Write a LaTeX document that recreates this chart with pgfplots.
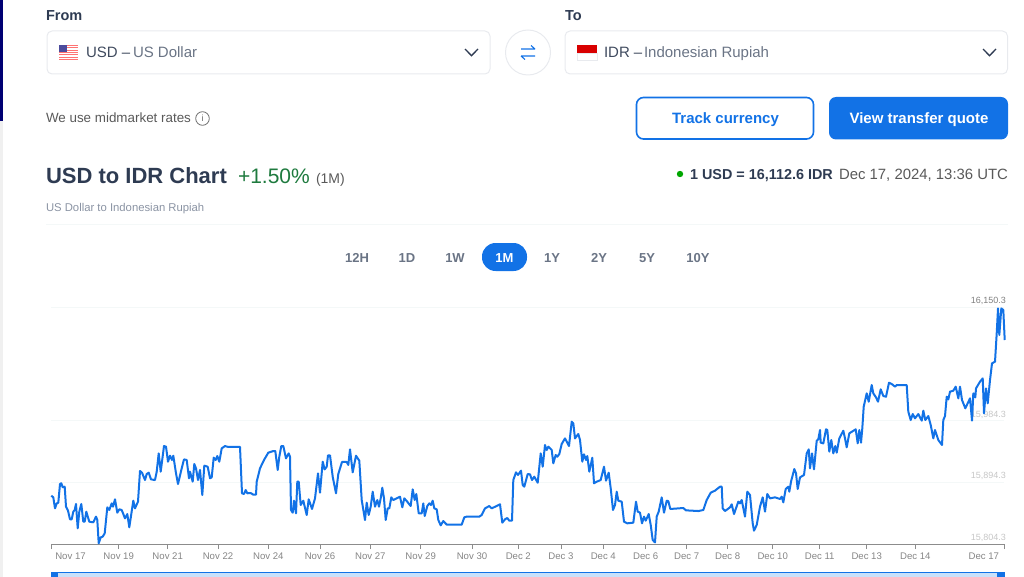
\documentclass[border=0pt]{standalone}
\usepackage{fontspec}
\setmainfont{Liberation Sans}
\usepackage{pgfplots}
\usepackage{pgfplotstable}
\pgfplotsset{compat=1.18}

\definecolor{wiseblue}{HTML}{1272E6}
\definecolor{inkdark}{HTML}{2E3B52}
\definecolor{inkmid}{HTML}{3F4A5E}
\definecolor{inkgrey}{HTML}{6A7485}
\definecolor{inkpale}{HTML}{8A93A3}
\definecolor{boxline}{HTML}{E8EAEE}
\definecolor{gridpale}{HTML}{F4F8F8}
\definecolor{ticklab}{HTML}{858585}
\definecolor{ylabpale}{HTML}{C6C6C6}
\definecolor{ylabdark}{HTML}{808080}
\definecolor{slider}{HTML}{C9E1FB}
\definecolor{upgreen}{HTML}{1E7A3E}

% x is the position along the chart, y the rate
\pgfplotstableread{
x y
51.3 15874.9
53.3 15872.5
55 15856.4
56.7 15863.7
58.3 15864.7
60 15892.0
61.3 15893.0
62.7 15887.1
64.7 15888.1
66 15858.9
68 15853.0
70 15840.4
71.7 15840.4
73.3 15851.6
74.7 15854.0
76 15862.8
77.7 15827.2
79.3 15851.6
81.3 15862.8
83.3 15836.9
84.7 15836.9
86.3 15851.6
89.3 15836.9
93.3 15836.0
96 15844.3
97.3 15839.4
98.7 15805.3
100.7 15814.0
102.7 15815.0
104.7 15819.9
107.3 15857.9
109.3 15854.0
111.7 15863.7
113 15858.9
115 15869.6
117.3 15850.1
119.3 15855.0
121.7 15854.0
125 15841.8
127.3 15848.1
129.3 15828.7
133.3 15867.6
135 15856.4
138 15866.2
140 15911.0
142 15908.6
145 15897.8
146.7 15906.6
148.7 15908.6
151 15898.8
155 15897.8
156.7 15910.0
158.7 15936.8
160.7 15910.0
164 15947.5
166 15946.6
168 15924.6
170 15933.4
172 15927.1
173.3 15933.4
176 15907.6
178 15892.0
181.7 15914.9
184 15928.0
186.7 15927.1
189 15900.3
190 15910.0
192.7 15895.4
194.3 15921.2
196 15914.9
198 15897.8
200 15912.5
202.3 15875.9
204.3 15918.8
207.7 15917.3
210 15900.3
211.7 15901.7
213.7 15930.5
215.7 15927.1
217.3 15932.9
219.3 15924.6
221.7 15944.1
225 15947.5
228.3 15946.1
240 15946.1
242 15878.4
244 15877.4
245.7 15883.2
247.3 15878.4
250.7 15878.8
253.3 15876.4
256 15876.4
256.7 15895.4
260 15914.9
264 15927.1
268.3 15937.8
273.3 15940.2
275.3 15940.2
277.7 15912.5
279.3 15931.9
281.3 15947.5
283.3 15947.5
286 15929.5
288.7 15936.8
290 15931.9
291 15854.0
292.7 15850.1
294 15867.6
296 15849.1
297.3 15895.4
298.7 15895.4
300.7 15861.3
303.3 15867.6
306.7 15846.7
308.7 15869.6
312 15855.5
315 15871.0
318 15907.6
320 15879.3
322.7 15924.6
324.7 15913.4
326.7 15917.3
328 15933.9
330 15933.9
332.7 15902.7
336 15878.4
338.3 15906.6
342 15924.2
346.7 15924.2
348.3 15919.8
350 15942.7
352.7 15909.0
356 15933.4
359.3 15926.1
361.7 15868.6
365 15839.4
366.7 15864.7
368.7 15846.7
370.7 15858.9
372.7 15880.8
375 15858.9
377.3 15868.6
379 15858.9
380.7 15871.0
382.3 15886.6
384 15871.0
385.7 15839.4
387.7 15856.4
389.3 15856.4
391.3 15872.5
393.3 15868.6
400 15873.5
402.3 15857.9
404.3 15871.0
406.7 15867.1
410.7 15859.8
412.7 15884.2
414.7 15868.6
416.3 15877.4
418.7 15849.1
421.7 15849.1
423.3 15863.7
424.7 15845.2
427.3 15859.8
429.3 15863.7
431 15861.3
432.7 15867.6
434.3 15856.4
436.7 15855.0
438.3 15839.4
440.7 15831.6
443.3 15837.9
446.7 15832.6
461.7 15832.6
464.3 15843.3
466.7 15844.3
479.3 15844.3
481.7 15846.7
485 15856.4
489.3 15859.8
491.7 15856.4
500 15862.3
502.3 15835.5
505 15840.4
507.3 15842.3
509.3 15838.4
512 15838.4
513.3 15897.8
516 15909.0
518 15905.2
521 15911.5
522.7 15890.5
524.3 15888.1
527.7 15906.6
530 15906.1
532 15897.8
534.3 15902.7
537.7 15893.9
540.7 15936.8
542.7 15917.3
545 15949.0
546.7 15941.7
548.3 15946.6
551.7 15941.7
553.3 15922.2
555.7 15934.4
557.3 15931.9
559.3 15935.8
561.7 15950.5
565 15958.7
569 15947.5
571.7 15983.1
573.3 15980.7
575 15958.7
578.3 15965.1
580 15956.3
582.3 15924.6
584 15935.4
586 15927.1
587.3 15932.9
589.3 15910.0
592.3 15930.5
594 15893.0
596.7 15895.4
600.7 15897.8
604 15917.3
606 15896.9
608.7 15908.6
610.7 15885.7
613 15854.0
615 15861.3
616.7 15880.8
618.3 15867.6
621.7 15866.2
624 15836.9
627.3 15834.5
633.3 15835.5
636 15866.2
637.7 15851.6
640 15850.1
642 15834.5
644 15844.3
645.7 15838.4
648.7 15848.1
650.7 15832.1
652.7 15810.1
655 15806.7
656.7 15844.3
658.7 15851.6
661.7 15872.5
664 15850.1
666.7 15867.6
668.3 15867.1
670.3 15855.5
683.3 15856.9
686 15853.5
698.3 15852.5
703.3 15854.0
706.7 15868.6
710.7 15879.3
715 15882.3
720 15888.1
721.7 15888.1
722.7 15856.4
725 15852.5
730 15857.9
731.7 15862.3
734 15848.1
738.3 15866.2
740 15863.7
741.7 15868.6
745 15844.3
747.3 15880.8
750 15875.9
752.7 15834.5
754 15823.8
756.7 15832.1
760 15858.9
762.7 15872.5
765 15851.6
767.3 15877.4
770 15871.0
775 15872.5
780 15870.1
781.7 15873.5
783.3 15865.2
785.7 15884.7
788.3 15888.1
789.3 15880.8
791 15895.4
794.3 15913.9
796 15907.6
797.7 15884.7
800 15901.7
804 15905.2
806.7 15936.8
808.7 15942.7
810 15914.9
812 15936.8
814 15913.4
816.7 15955.3
818.3 15957.3
820 15970.9
820.7 15952.4
823.3 15951.4
826 15971.9
827.3 15970.9
829.3 15939.3
831.3 15956.3
833.3 15936.8
835.3 15947.5
836.7 15937.8
839.3 15958.7
843.3 15969.9
845 15958.7
846.7 15945.6
849.3 15966.1
855.7 15971.9
857.7 15951.4
859.3 15970.9
861 15952.4
862.3 15973.4
863.7 16005.0
866.7 16024.5
868.7 16012.3
871.7 16036.7
873.3 16024.5
876 16018.7
878 16012.3
880.7 16030.4
883.3 16020.6
886 16019.6
889 16040.1
891.7 16038.2
895 16034.3
896.7 16036.7
906.7 16036.7
908.3 15997.7
910.7 15985.5
912.7 15994.3
915 15988.0
918.3 15994.3
921.7 15984.6
923.3 15999.2
925.3 15985.5
928.3 15991.4
930.7 15978.2
933.3 15958.7
935 15970.9
938.3 15956.3
942 15949.0
943.3 15985.5
945 15991.4
946.7 16019.6
948.3 16015.7
950 16027.0
953.3 16028.4
955.7 16034.3
958.3 16017.2
960 16034.3
962 16014.8
965.3 16002.6
970 16017.2
972 15984.6
973.3 16024.5
975.3 16018.7
976 16031.8
980 16041.6
982.7 16046.4
984 15995.3
986 16031.8
987.7 16009.9
990 16044.0
992 16068.4
995 16070.8
996.7 16112.2
998 16148.7
999.3 16109.8
1001.3 16148.7
1003.3 16146.3
1004.7 16102.5
}\ratedata

\newcommand{\fs}[1]{\fontsize{#1}{#1}\selectfont}

\begin{document}
\begin{tikzpicture}
\path (0,0) rectangle (1024pt,-577pt);

\begin{scope}[x=1pt,y=-1pt,every node/.style={inner sep=0pt,outer sep=0pt}]
% page edge
\fill[black!6] (0,0) rectangle (3,577);
\fill[blue!45!black] (0,0) rectangle (3,121);

% from / to
\node[anchor=base west,text=inkdark,font=\fs{14.5}\bfseries] at (46,20.5) {From};
\node[anchor=base west,text=inkdark,font=\fs{14.5}\bfseries] at (565,20.5) {To};
\draw[boxline,rounded corners=5pt,line width=1pt] (47,31) rectangle (490,74);
\draw[boxline,rounded corners=5pt,line width=1pt] (565,31) rectangle (1007.5,74);
\draw[boxline,line width=1pt] (528,52.5) circle (22.5);

% flags
\fill[red!55!white] (59,45) rectangle (78,60);
\foreach \s in {46.2,48.5,50.8,53.1,55.4,57.7}
  \fill[white] (59,\s) rectangle (78,\s+1.15);
\fill[blue!45!black!70!white] (59,45) rectangle (67,52);
\fill[red!85!black] (577,45) rectangle (597,53);
\draw[boxline,fill=white] (577,53) rectangle (597,60);

\node[anchor=base west,text=inkmid,font=\fs{15}] at (86,58) {USD –};
\node[anchor=base west,text=inkgrey,font=\fs{15}] at (133,58) {US Dollar};
\node[anchor=base west,text=inkmid,font=\fs{15}] at (604,58) {IDR –};
\node[anchor=base west,text=inkgrey,font=\fs{15}] at (644,58) {Indonesian Rupiah};
\draw[inkdark,line width=1.3pt] (465,49) -- (471.5,55.7) -- (478,49);
\draw[inkdark,line width=1.3pt] (983,49) -- (989.5,55.7) -- (996,49);

% swap icon
\draw[wiseblue,line width=1.1pt] (521,49) -- (535,49) (531,45.5) -- (535,49);
\draw[wiseblue,line width=1.1pt] (535,56) -- (521,56) (525,59.5) -- (521,56);

% rates note
\node[anchor=base west,text=black!65,font=\fs{13.4}] at (46,122.5) {We use midmarket rates};
\draw[black!55,line width=.8pt] (202.5,118.5) circle (6.8);
\node[text=black!60,font=\fs{9}] at (202.5,118.7) {i};

% buttons
\draw[wiseblue,rounded corners=7pt,line width=1.6pt,fill=white] (636.5,97.5) rectangle (813.5,139);
\node[text=wiseblue,font=\fs{15}\bfseries] at (725.5,119.5) {Track currency};
\fill[wiseblue,rounded corners=7pt] (829,97) rectangle (1008,139.5);
\node[text=white,font=\fs{15}\bfseries] at (919,119.5) {View transfer quote};

% heading
\node[anchor=base west,text=inkdark,font=\fs{22}\bfseries] at (46,183.5) {USD to IDR Chart};
\node[anchor=base west,text=upgreen,font=\fs{21}] at (238,183.5) {+1.50\%};
\node[anchor=base west,text=black!65,font=\fs{14}] at (316,183.5) {(1M)};
\node[anchor=base west,text=inkpale,font=\fs{11.3}] at (46,211.5) {US Dollar to Indonesian Rupiah};
\fill[green!65!black] (680,174) circle (3.2);
\node[anchor=base west,text=inkdark,font=\fs{14.4}\bfseries] at (690,179.3) {1 USD = 16,112.6 IDR};
\node[anchor=base east,text=black!65,font=\fs{14.9}] at (1008,179.3) {Dec 17, 2024, 13:36 UTC};
\draw[gridpale,line width=1pt] (46,224.5) -- (1008,224.5);

% range tabs
\fill[wiseblue,rounded corners=13.5pt] (482,243) rectangle (527,271);
\foreach \lab/\px in {12H/357,1D/407,1W/455,1Y/552,2Y/599,5Y/647,10Y/698}
  \node[anchor=base,text=inkgrey,font=\fs{13}\bfseries] at (\px,262) {\lab};
\node[anchor=base,text=white,font=\fs{13}\bfseries] at (504.5,262) {1M};

% range slider under the chart
\fill[slider] (51,572) rectangle (1004.5,577);
\draw[wiseblue,line width=1pt] (51,572) -- (1004.5,572);
\fill[wiseblue] (51,572) rectangle (58,577);
\fill[wiseblue] (997,572) rectangle (1004.5,577);
\end{scope}

\begin{axis}[
    at={(51.3pt,-544pt)},
    anchor=south west,
    scale only axis,
    width=952.7pt,
    height=236.7pt,
    xmin=51.3, xmax=1004,
    ymin=15804.3, ymax=16150.3,
    clip=false,
    set layers,
    axis x line=bottom,
    axis y line=right,
    scaled x ticks=false,
    scaled y ticks=false,
    x axis line style={-,draw=black!45,line width=1pt},
    y axis line style={-,draw=none},
    xtick={51.3,118.7,167.7,218,268.3,320,370.3,420.7,472,518.3,561,603.3,645.7,686.7,727.7,772.7,819.7,866.7,915.3,1004},
    xticklabels={\makebox[0pt][l]{\hspace*{4pt}Nov 17},Nov 19,Nov 21,Nov 22,Nov 24,Nov 26,Nov 27,Nov 29,Nov 30,Dec 2,Dec 3,Dec 4,Dec 6,Dec 7,Dec 8,Dec 10,Dec 11,Dec 13,Dec 14,\makebox[0pt][r]{Dec 17\hspace*{5pt}}},
    x tick style={draw=black!45,line width=.8pt},
    x tick label style={text=ticklab,font=\fs{9.6},inner sep=0pt,yshift=-3.5pt},
    major tick length=5pt,
    tick align=outside,
    ytick={15804.3,15894.3,15984.3,16150.3},
    yticklabels={\textcolor{ylabpale}{15,804.3},\textcolor{ylabpale}{15,894.3},\textcolor{ylabpale}{15,984.3},\textcolor{ylabdark}{16,150.3}},
    y tick style={draw=none},
    y tick label style={anchor=south east,font=\fs{9},inner sep=0pt,xshift=-3pt,yshift=2.5pt},
    ymajorgrids,
    grid style={gridpale,line width=.8pt},
]
\addplot[wiseblue,line width=2pt,line join=round,mark=none] table[x=x,y=y] {\ratedata};
\end{axis}
\end{tikzpicture}
\end{document}
